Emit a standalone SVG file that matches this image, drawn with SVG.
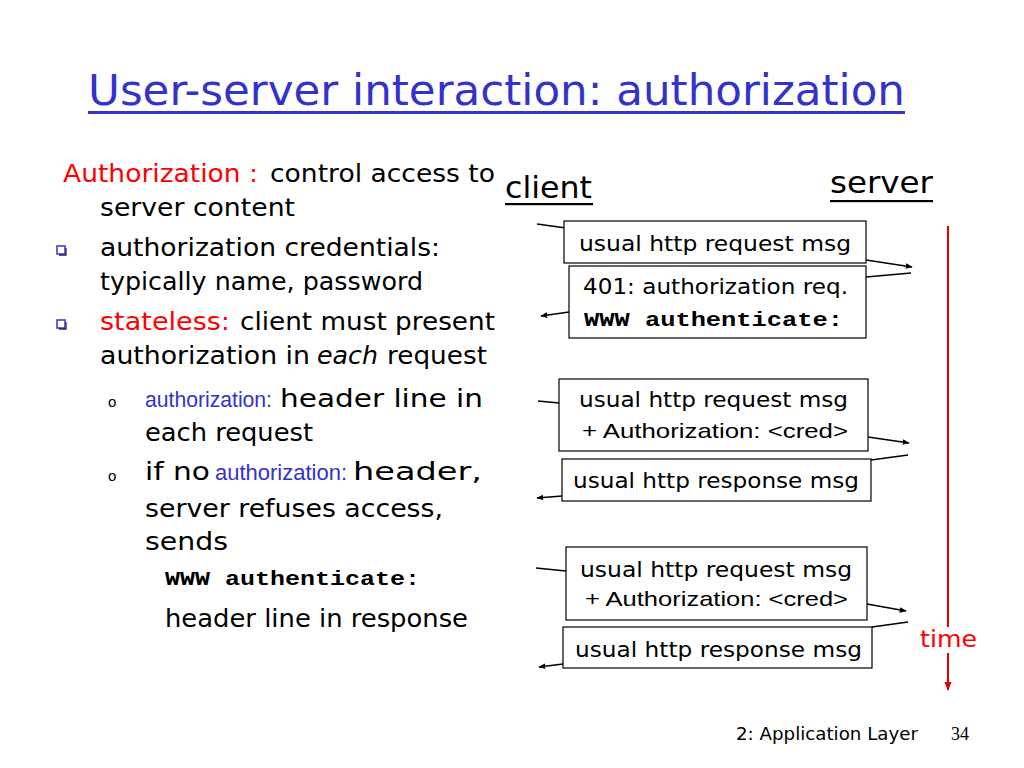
<svg xmlns="http://www.w3.org/2000/svg" width="1024" height="768" viewBox="0 0 1024 768">
<defs>
<style>
.c{font-family:"DejaVu Sans","Liberation Sans",sans-serif;fill:#000}
.a{font-family:"Liberation Sans",Arial,sans-serif;fill:#000}
.m{font-family:"Liberation Mono","Courier New",monospace;font-weight:bold;fill:#000}
.red{fill:#FF0000}
.blue{fill:#3333CC}
.box{fill:#fff;stroke:#000;stroke-width:1.2}
.ln{stroke:#000;stroke-width:1.6;fill:none}
</style>
<marker id="ah" viewBox="0 0 10 10" refX="9" refY="5" markerWidth="7" markerHeight="7" markerUnits="userSpaceOnUse" orient="auto"><path d="M0,1 L10,5 L0,9 z" fill="#000"/></marker>
<marker id="ahr" viewBox="0 0 10 10" refX="9" refY="5" markerWidth="9" markerHeight="9" markerUnits="userSpaceOnUse" orient="auto"><path d="M0,1 L10,5 L0,9 z" fill="#E00000"/></marker>
<g id="bul"><rect x="0" y="0" width="8" height="8" fill="#fff" stroke="#3333CC" stroke-width="1.5"/><path d="M2,9 H9 V2" stroke="#222266" stroke-width="1.3" fill="none"/></g>
</defs>
<rect width="1024" height="768" fill="#fff"/>

<g id="title">
<text x="88" y="105" class="c blue" font-size="42" textLength="817" lengthAdjust="spacingAndGlyphs">User-server interaction: authorization</text>
<rect x="88" y="111" width="817" height="3" fill="#3333CC"/>
</g>

<g id="body">
<text x="63" y="182" class="c red" font-size="25" textLength="195" lengthAdjust="spacingAndGlyphs">Authorization :</text>
<text x="270" y="182" class="c" font-size="25" textLength="225" lengthAdjust="spacingAndGlyphs">control access to</text>
<text x="100" y="216" class="c" font-size="25" textLength="195" lengthAdjust="spacingAndGlyphs">server content</text>
<use href="#bul" x="57" y="246"/>
<text x="100" y="256" class="c" font-size="25" textLength="340" lengthAdjust="spacingAndGlyphs">authorization credentials:</text>
<text x="100" y="290" class="c" font-size="25" textLength="323" lengthAdjust="spacingAndGlyphs">typically name, password</text>
<use href="#bul" x="57" y="320"/>
<text x="100" y="330" class="c red" font-size="25" textLength="130" lengthAdjust="spacingAndGlyphs">stateless:</text>
<text x="240" y="330" class="c" font-size="25" textLength="255" lengthAdjust="spacingAndGlyphs">client must present</text>
<text x="100" y="364" class="c" font-size="25" textLength="210" lengthAdjust="spacingAndGlyphs">authorization in</text>
<text x="317" y="364" class="c" font-size="25" font-style="italic" textLength="61" lengthAdjust="spacingAndGlyphs">each</text>
<text x="387" y="364" class="c" font-size="25" textLength="100" lengthAdjust="spacingAndGlyphs">request</text>

<text x="108" y="407" class="a" fill="#222255" font-size="15">o</text>
<text x="145" y="407" class="a blue" font-size="22" textLength="127" lengthAdjust="spacingAndGlyphs">authorization:</text>
<text x="280" y="407" class="c" font-size="25" textLength="203" lengthAdjust="spacingAndGlyphs">header line in</text>
<text x="145" y="441" class="c" font-size="25" textLength="168" lengthAdjust="spacingAndGlyphs">each request</text>
<text x="108" y="481" class="a" fill="#222255" font-size="15">o</text>
<text x="145" y="480" class="c" font-size="25" textLength="65" lengthAdjust="spacingAndGlyphs">if no</text>
<text x="215" y="480" class="a blue" font-size="22" textLength="132" lengthAdjust="spacingAndGlyphs">authorization:</text>
<text x="353" y="480" class="c" font-size="25" textLength="129" lengthAdjust="spacingAndGlyphs">header,</text>
<text x="145" y="517" class="c" font-size="25" textLength="298" lengthAdjust="spacingAndGlyphs">server refuses access,</text>
<text x="145" y="550" class="c" font-size="25" textLength="83" lengthAdjust="spacingAndGlyphs">sends</text>
<text x="165" y="585" class="m" font-size="20" textLength="255" lengthAdjust="spacingAndGlyphs">WWW authenticate:</text>
<text x="165" y="627" class="c" font-size="25" textLength="303" lengthAdjust="spacingAndGlyphs">header line in response</text>
</g>

<g id="client">
<text x="505" y="198" class="c" font-size="31" textLength="87" lengthAdjust="spacingAndGlyphs">client</text>
<rect x="505" y="203" width="88" height="2.2" fill="#000"/>
</g>
<g id="server">
<text x="830" y="193" class="c" font-size="31" textLength="103" lengthAdjust="spacingAndGlyphs">server</text>
<rect x="830" y="200" width="103" height="2.2" fill="#000"/>
</g>

<g id="connectors">
<line class="ln" x1="537" y1="224" x2="566" y2="228"/>
<line class="ln" x1="866" y1="260" x2="912" y2="267" marker-end="url(#ah)"/>
<line class="ln" x1="911" y1="273" x2="866" y2="277"/>
<line class="ln" x1="569" y1="312" x2="541" y2="316" marker-end="url(#ah)"/>
<line class="ln" x1="538" y1="401" x2="559" y2="403"/>
<line class="ln" x1="868" y1="437" x2="909" y2="443" marker-end="url(#ah)"/>
<line class="ln" x1="908" y1="455" x2="871" y2="460"/>
<line class="ln" x1="562" y1="496" x2="537" y2="498" marker-end="url(#ah)"/>
<line class="ln" x1="536" y1="568" x2="566" y2="571"/>
<line class="ln" x1="867" y1="604" x2="906" y2="611" marker-end="url(#ah)"/>
<line class="ln" x1="908" y1="622" x2="872" y2="627"/>
<line class="ln" x1="563" y1="664" x2="539" y2="667" marker-end="url(#ah)"/>
<line x1="948" y1="226" x2="948" y2="690" stroke="#E00000" stroke-width="2" marker-end="url(#ahr)"/>
</g>

<g id="msg1">
<rect class="box" x="564" y="221" width="302" height="42"/>
<text x="579" y="251" class="c" font-size="21" textLength="272" lengthAdjust="spacingAndGlyphs">usual http request msg</text>
</g>
<g id="msg2">
<rect class="box" x="569" y="266" width="297" height="72"/>
<text x="583" y="294" class="c" font-size="21" textLength="265" lengthAdjust="spacingAndGlyphs">401: authorization req.</text>
<text x="584" y="326" class="m" font-size="20" textLength="259" lengthAdjust="spacingAndGlyphs">WWW authenticate:</text>
</g>
<g id="msg3">
<rect class="box" x="559" y="379" width="309" height="72"/>
<text x="579" y="407" class="c" font-size="21" textLength="269" lengthAdjust="spacingAndGlyphs">usual http request msg</text>
<text x="582" y="438" class="a" font-size="21" textLength="266" lengthAdjust="spacingAndGlyphs">+  Authorization: &lt;cred&gt;</text>
</g>
<g id="msg4">
<rect class="box" x="562" y="459" width="309" height="42"/>
<text x="573" y="488" class="c" font-size="21" textLength="286" lengthAdjust="spacingAndGlyphs">usual http response msg</text>
</g>
<g id="msg5">
<rect class="box" x="566" y="547" width="301" height="73"/>
<text x="580" y="577" class="c" font-size="21" textLength="272" lengthAdjust="spacingAndGlyphs">usual http request msg</text>
<text x="585" y="606" class="a" font-size="21" textLength="263" lengthAdjust="spacingAndGlyphs">+ Authorization: &lt;cred&gt;</text>
</g>
<g id="msg6">
<rect class="box" x="563" y="627" width="309" height="41"/>
<text x="575" y="657" class="c" font-size="21" textLength="287" lengthAdjust="spacingAndGlyphs">usual http response msg</text>
</g>

<g id="time">
<rect x="918" y="627" width="62" height="26" fill="#fff"/>
<text x="920" y="647" class="c red" font-size="23" textLength="57" lengthAdjust="spacingAndGlyphs">time</text>
</g>

<g id="footer">
<text x="736" y="740" class="c" font-size="18" textLength="182" lengthAdjust="spacingAndGlyphs">2: Application Layer</text>
<text x="951" y="740" font-family="Liberation Serif,serif" font-size="18" fill="#000">34</text>
</g>
</svg>
